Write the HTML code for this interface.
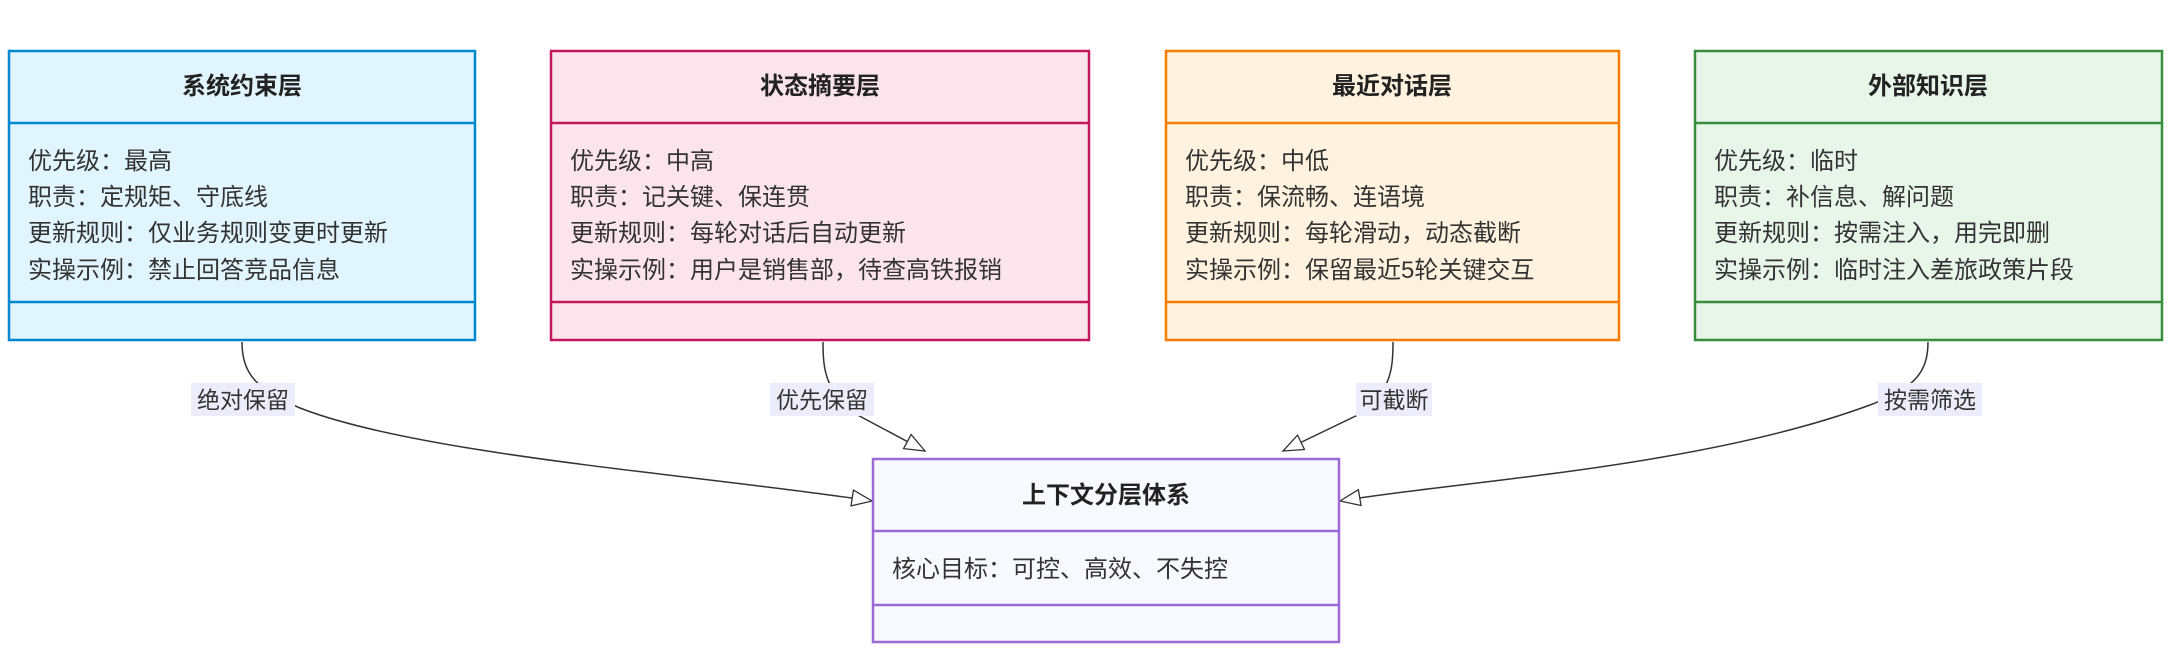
<!DOCTYPE html>
<html><head><meta charset="utf-8"><style>
html,body{margin:0;padding:0;background:#fff;}
svg{display:block;font-family:"Liberation Sans","Noto Sans CJK SC",sans-serif;}
.t{font-size:24px;font-weight:bold;fill:#222;text-anchor:middle}
.r{font-size:24px;fill:#333}
.l{font-size:23px;fill:#333;text-anchor:middle}
</style></head><body>
<svg width="2173" height="666" viewBox="0 0 2173 666" xmlns="http://www.w3.org/2000/svg">
<defs>
<marker id="a" markerWidth="24" markerHeight="20" refX="22" refY="10" orient="auto" markerUnits="userSpaceOnUse">
<path d="M2,2 L22,10 L2,18 Z" fill="#fff" stroke="#333" stroke-width="1.3"/>
</marker>
</defs>
<g fill="none" stroke="#333" stroke-width="1.5">
<path d="M242,342 C242,375 258,390 300,408 C420,455 700,475 872,501" marker-end="url(#a)"/>
<path d="M823,342 C823,372 826,388 852,412 L925,451" marker-end="url(#a)"/>
<path d="M1393,342 C1393,372 1390,388 1364,412 L1283,451" marker-end="url(#a)"/>
<path d="M1928,342 C1928,372 1915,388 1870,405 C1700,468 1450,482 1340,501" marker-end="url(#a)"/>
</g>
<g stroke-width="2.5">
<rect x="9" y="51" width="466" height="289" fill="#e1f5fe" stroke="#0288d1"/>
<line x1="9" y1="123" x2="475" y2="123" stroke="#0288d1"/>
<line x1="9" y1="302" x2="475" y2="302" stroke="#0288d1"/>
<rect x="551" y="51" width="538" height="289" fill="#fce4ec" stroke="#c2185b"/>
<line x1="551" y1="123" x2="1089" y2="123" stroke="#c2185b"/>
<line x1="551" y1="302" x2="1089" y2="302" stroke="#c2185b"/>
<rect x="1166" y="51" width="453" height="289" fill="#fff3e0" stroke="#f57c00"/>
<line x1="1166" y1="123" x2="1619" y2="123" stroke="#f57c00"/>
<line x1="1166" y1="302" x2="1619" y2="302" stroke="#f57c00"/>
<rect x="1695" y="51" width="467" height="289" fill="#e8f5e9" stroke="#388e3c"/>
<line x1="1695" y1="123" x2="2162" y2="123" stroke="#388e3c"/>
<line x1="1695" y1="302" x2="2162" y2="302" stroke="#388e3c"/>
<rect x="873" y="459" width="466" height="183" fill="#f8f8ff" stroke="#9c6ad6"/>
<line x1="873" y1="531" x2="1339" y2="531" stroke="#9c6ad6"/>
<line x1="873" y1="605" x2="1339" y2="605" stroke="#9c6ad6"/>
</g>
<text class="t" x="242" y="94">系统约束层</text>
<text class="r" x="28" y="169">优先级：最高</text>
<text class="r" x="28" y="205">职责：定规矩、守底线</text>
<text class="r" x="28" y="241">更新规则：仅业务规则变更时更新</text>
<text class="r" x="28" y="278">实操示例：禁止回答竞品信息</text>

<text class="t" x="820" y="94">状态摘要层</text>
<text class="r" x="570" y="169">优先级：中高</text>
<text class="r" x="570" y="205">职责：记关键、保连贯</text>
<text class="r" x="570" y="241">更新规则：每轮对话后自动更新</text>
<text class="r" x="570" y="278">实操示例：用户是销售部，待查高铁报销</text>

<text class="t" x="1392" y="94">最近对话层</text>
<text class="r" x="1185" y="169">优先级：中低</text>
<text class="r" x="1185" y="205">职责：保流畅、连语境</text>
<text class="r" x="1185" y="241">更新规则：每轮滑动，动态截断</text>
<text class="r" x="1185" y="278">实操示例：保留最近5轮关键交互</text>

<text class="t" x="1928" y="94">外部知识层</text>
<text class="r" x="1714" y="169">优先级：临时</text>
<text class="r" x="1714" y="205">职责：补信息、解问题</text>
<text class="r" x="1714" y="241">更新规则：按需注入，用完即删</text>
<text class="r" x="1714" y="278">实操示例：临时注入差旅政策片段</text>

<text class="t" x="1106" y="503">上下文分层体系</text>
<text class="r" x="892" y="577">核心目标：可控、高效、不失控</text>
<rect x="191" y="383" width="104" height="33" fill="#ececfa"/>
<text class="l" x="243" y="408">绝对保留</text>
<rect x="770" y="383" width="104" height="33" fill="#ececfa"/>
<text class="l" x="822" y="408">优先保留</text>
<rect x="1356" y="383" width="76" height="33" fill="#ececfa"/>
<text class="l" x="1394" y="408">可截断</text>
<rect x="1878" y="383" width="104" height="33" fill="#ececfa"/>
<text class="l" x="1930" y="408">按需筛选</text>
</svg>
</body></html>
